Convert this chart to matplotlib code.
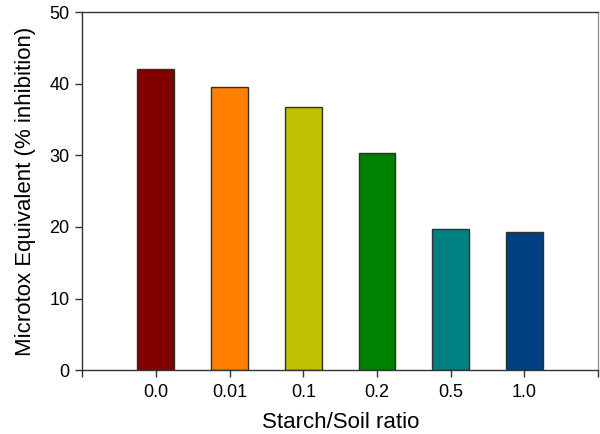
import matplotlib
matplotlib.use("Agg")
import matplotlib.pyplot as plt

# data
ratios = ["0.0", "0.01", "0.1", "0.2", "0.5", "1.0"]
inhibition = [42.0, 39.5, 36.7, 30.3, 19.7, 19.3]
colors = ["#800000", "#FF8000", "#C0C000", "#008000", "#008080", "#004080"]

plt.rcParams["font.family"] = ["Liberation Sans", "DejaVu Sans"]

fig = plt.figure(figsize=(6, 4.34), dpi=100)
ax = fig.add_axes([0.137, 0.147, 0.86, 0.825])

pos = list(range(1, len(ratios) + 1))
ax.bar(pos, inhibition, width=0.5, color=colors, edgecolor="#303030", linewidth=1.0)

ax.set_xlim(0, len(ratios) + 1)
ax.set_ylim(0, 50)
ax.set_xticks([0] + pos + [len(ratios) + 1])
ax.set_xticklabels([""] + ratios + [""])
ax.set_yticks(range(0, 51, 10))
ax.tick_params(direction="out", length=5, width=1, labelsize=13, color="#333333")
ax.tick_params(axis="x", pad=5)
ax.tick_params(axis="y", pad=4)

for s in ax.spines.values():
    s.set_color("#333333")
    s.set_linewidth(1.0)
ax.spines["right"].set_color("#999999")

ax.set_xlabel("Starch/Soil ratio", fontsize=16, labelpad=8)
ax.set_ylabel("Microtox Equivalent (% inhibition)", fontsize=16, labelpad=10)

fig.savefig("out.png", dpi=100)
